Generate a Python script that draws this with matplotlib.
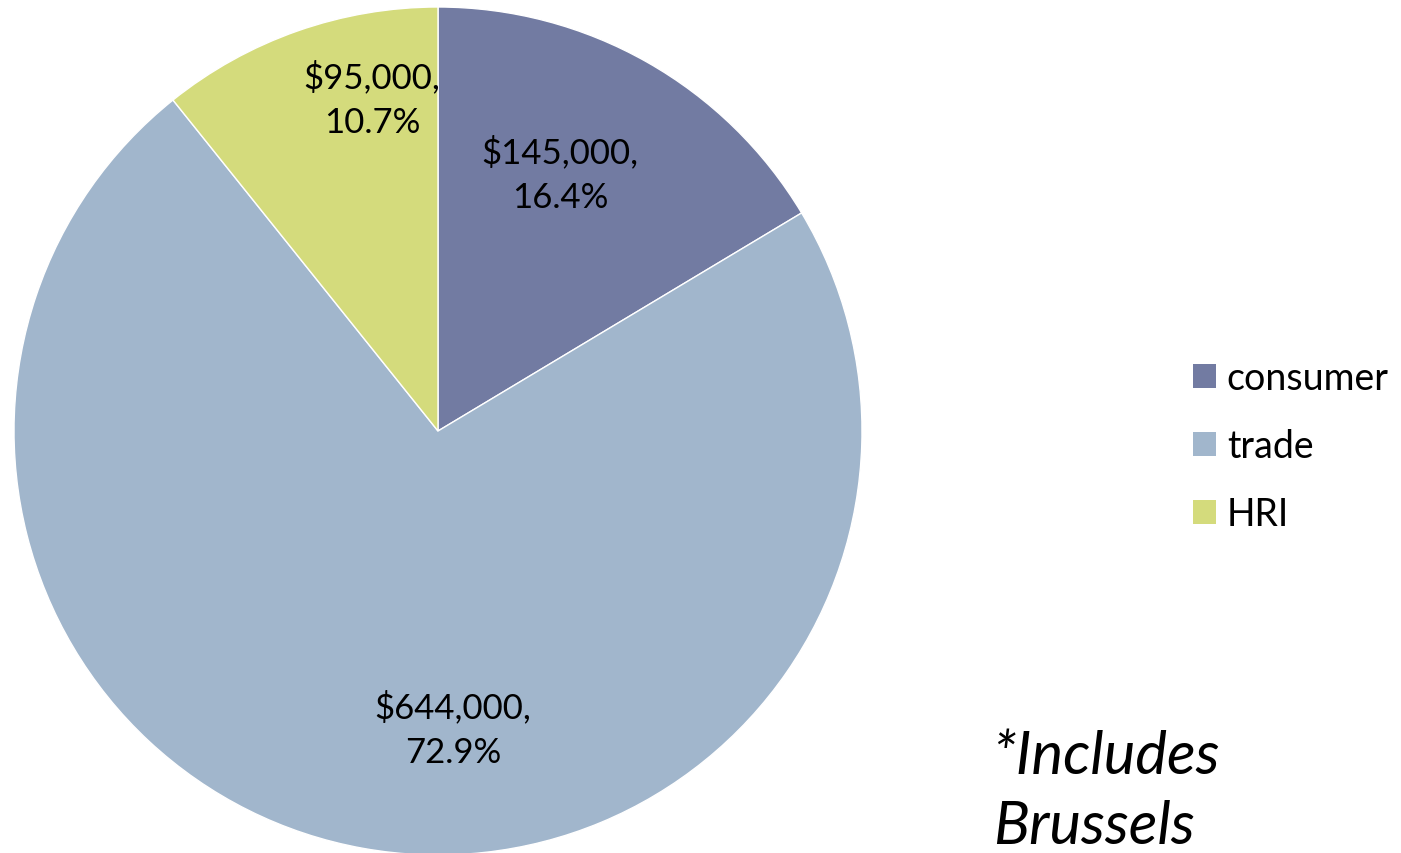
import matplotlib
matplotlib.use('Agg')
import matplotlib.pyplot as plt
from matplotlib.patches import Patch
import numpy as np

# data
categories = ['consumer', 'trade', 'HRI']
values = [145000, 644000, 95000]
colors = ['#727BA2', '#A1B6CC', '#D4DB7C']
note = '*Includes\nBrussels'

plt.rcParams['font.family'] = ['Lato', 'DejaVu Sans']

W, H = 1401, 854
fig = plt.figure(figsize=(W / 100, H / 100), dpi=100)

# pie centre (438, 432) px, radius 424 px
cx, cy, r = 438, 432, 424
ax = fig.add_axes([(cx - r) / W, (H - cy - r) / H, 2 * r / W, 2 * r / H])
wedges, _ = ax.pie(values, colors=colors, startangle=90, counterclock=False,
                   radius=1, wedgeprops=dict(edgecolor='white', linewidth=1))
ax.set_xlim(-1, 1)
ax.set_ylim(-1, 1)
ax.set_aspect('auto')
ax.axis('off')

total = sum(values)
# label positions (fraction of radius, pixel-derived)
label_pos = [(0.288, 0.607), (0.035, -0.703), (-0.156, 0.783)]
for v, (lx, ly) in zip(values, label_pos):
    ax.text(lx, ly, '${:,},\n{:.1f}%'.format(v, 100 * v / total),
            ha='center', va='center', fontsize=25, linespacing=1.5,
            color='black')

handles = [Patch(facecolor=c, edgecolor='none') for c in colors]
fig.legend(handles, categories, loc='center left',
           bbox_to_anchor=(1193 / W, 1 - 447 / H), frameon=False,
           borderaxespad=0, borderpad=0,
           fontsize=27, handlelength=0.6, handleheight=0.6,
           handletextpad=0.3, labelspacing=0.85)

fig.text(993 / W, 1 - 792 / H, note, fontsize=43, style='italic',
         ha='left', va='center', linespacing=1.38)

fig.savefig('out.png', dpi=100)
